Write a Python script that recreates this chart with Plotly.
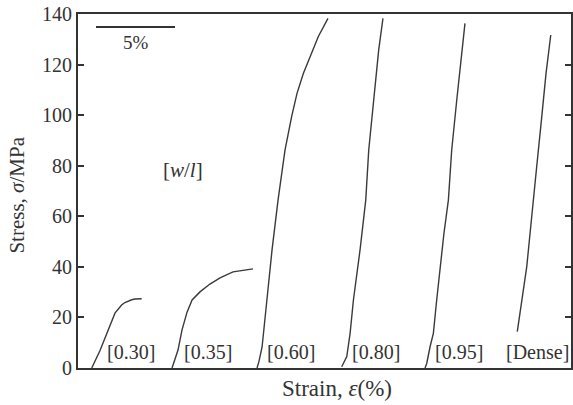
import plotly.graph_objects as go

# ---- data (strain in %, stress in MPa) ----
x_030 = [0.87, 1.40, 2.34, 2.60, 2.76, 2.97, 3.18, 3.40, 3.61, 4.03]
y_030 = [0.0, 7.0, 21.7, 23.6, 24.9, 25.9, 26.6, 27.0, 27.3, 27.4]

x_035 = [5.95, 6.14, 6.33, 6.58, 6.90, 7.22, 7.72, 8.35, 8.99, 9.81, 10.57, 11.08]
y_035 = [0.0, 3.2, 7.1, 15.0, 22.1, 26.9, 30.1, 33.2, 35.6, 38.0, 38.8, 39.2]

x_060 = [11.33, 11.45, 11.65, 11.96, 12.28, 12.66, 13.10, 13.52, 13.86, 14.26, 14.68, 15.21, 15.82]
y_060 = [0.0, 2.5, 8.3, 26.9, 46.7, 66.4, 86.2, 99.4, 108.6, 116.5, 123.1, 131.1, 138.3]

x_080 = [16.69, 17.01, 17.22, 17.43, 17.85, 18.21, 18.40, 18.71, 19.03, 19.30]
y_080 = [0.5, 4.5, 13.7, 26.9, 46.7, 66.4, 86.2, 106.0, 125.8, 138.3]

x_095 = [21.96, 22.07, 22.28, 22.49, 22.70, 22.91, 23.16, 23.44, 23.65, 23.97, 24.18, 24.49]
y_095 = [0.0, 1.8, 8.4, 13.7, 26.9, 40.1, 53.3, 66.4, 86.2, 106.0, 119.2, 136.3]

x_dense = [27.80, 28.08, 28.40, 28.61, 28.84, 29.03, 29.35, 29.62, 29.92]
y_dense = [14.4, 26.9, 40.1, 53.3, 66.4, 79.7, 99.4, 116.5, 131.7]

curves = [(x_030, y_030), (x_035, y_035), (x_060, y_060),
          (x_080, y_080), (x_095, y_095), (x_dense, y_dense)]

label_text = ["[0.30]", "[0.35]", "[0.60]", "[0.80]", "[0.95]", "[Dense]"]
label_x = [3.35, 8.23, 13.48, 18.86, 24.11, 29.11]
label_y = [6.5, 6.5, 6.5, 6.5, 6.5, 6.5]

scale_x = [1.14, 6.14]   # 5 % strain bar
scale_y = [134.9, 134.9]

yticks = [0, 20, 40, 60, 80, 100, 120, 140]

ink = "#333333"
font = "Liberation Serif, Times New Roman, serif"

fig = go.Figure()
for cx, cy in curves:
    fig.add_trace(go.Scatter(x=cx, y=cy, mode="lines", line=dict(color="#3a3a3a", width=1.4),
                             showlegend=False, hoverinfo="skip"))
fig.add_trace(go.Scatter(x=scale_x, y=scale_y, mode="lines", line=dict(color=ink, width=2),
                         showlegend=False, hoverinfo="skip"))

for t, lx, ly in zip(label_text, label_x, label_y):
    fig.add_annotation(x=lx, y=ly, text=t, showarrow=False, font=dict(family=font, size=20, color=ink))
fig.add_annotation(x=3.64, y=128.7, text="5%", showarrow=False, font=dict(family=font, size=19, color=ink))
fig.add_annotation(x=6.65, y=78.3, text="[<i>w</i>/<i>l</i>]", showarrow=False, font=dict(family=font, size=21, color=ink))
# axis titles
fig.add_annotation(xref="paper", yref="paper", x=0.525, y=0, yshift=-20, yanchor="middle",
                   text="Strain, <i>ε</i>(%)", showarrow=False, font=dict(family=font, size=23, color=ink))
fig.add_annotation(xref="paper", yref="paper", x=0, xshift=-61, xanchor="center",
                   y=0.487, yanchor="middle", textangle=-90,
                   text="Stress, <i>σ</i>/MPa", showarrow=False, font=dict(family=font, size=21, color=ink))

fig.update_layout(
    width=573, height=405,
    margin=dict(l=78, r=2, t=14, b=37, autoexpand=False),
    paper_bgcolor="white", plot_bgcolor="white",
    xaxis=dict(range=[0, 31.2], showgrid=False, zeroline=False, showticklabels=False, ticks="",
               showline=True, mirror=True, linecolor=ink, linewidth=2, automargin=False),
    yaxis=dict(range=[0, 140], tickvals=yticks, showgrid=False, zeroline=False,
               ticks="inside", ticklen=6, tickwidth=1.5, tickcolor=ink, mirror="ticks",
               showline=True, linecolor=ink, linewidth=2, automargin=False,
               tickfont=dict(family=font, size=20, color=ink)),
)

fig.write_html("out.html", config={"displayModeBar": False},
               post_script="document.body.style.margin='0';document.body.style.padding='0';")
